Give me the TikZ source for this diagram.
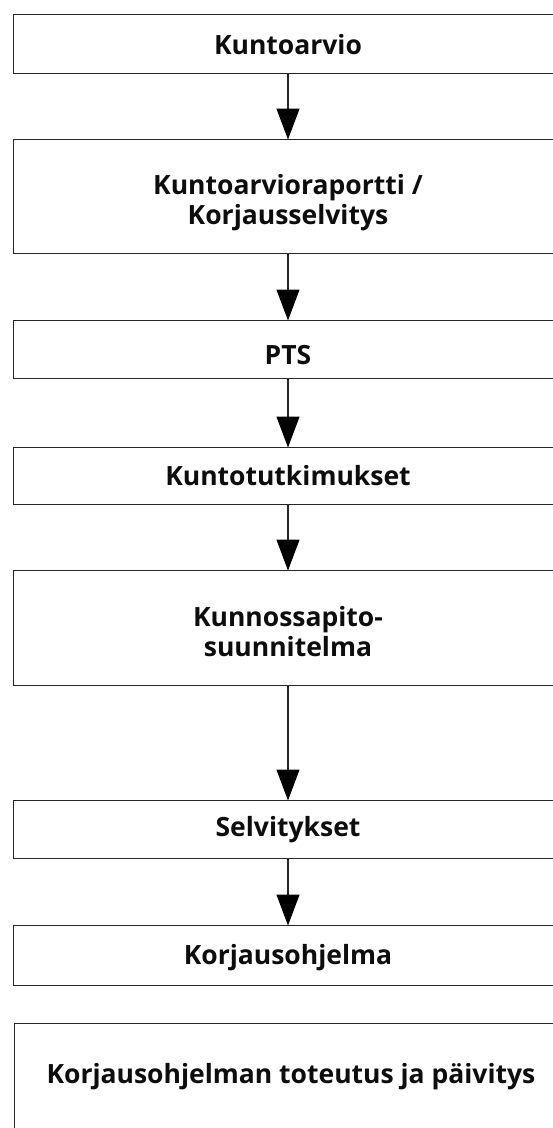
\documentclass[tikz,border=0pt]{standalone}
\usepackage{fontspec}
\setmainfont{Open Sans}
\usetikzlibrary{arrows.meta}
\tikzset{
  box/.style={draw=black!85, line width=1.3pt, minimum width=560pt, inner sep=0pt, anchor=north west},
  lbl/.style={font=\fontsize{26.5}{30}\selectfont\bfseries, text=black!95, align=center, inner sep=0pt},
  flow/.style={draw=black!85, line width=1.2pt, -{Triangle[width=23pt,length=31pt,color=black,fill=black]}, shorten >=-0.5pt}
}
\begin{document}
\begin{tikzpicture}[x=1pt,y=-1pt]
\useasboundingbox (0,0) rectangle (553,1128);
\clip (0,0) rectangle (553,1128);
\coordinate (ax) at (288,0);
\node[box, minimum height=59pt] (b1) at (13,14) {};
\node[box, minimum height=114pt] (b2) at (13,139) {};
\node[box, minimum height=58pt] (b3) at (13,320) {};
\node[box, minimum height=57pt] (b4) at (13,447) {};
\node[box, minimum height=115pt] (b5) at (13,570) {};
\node[box, minimum height=58pt] (b6) at (13,800) {};
\node[box, minimum height=60pt] (b7) at (13,925) {};
\node[box, minimum height=112pt] (b8) at (14,1023) {};
\node[lbl] (t1) at (288,45) {Kuntoarvio};
\node[lbl] (t2) at (288,203) {Kuntoarvioraportti /\\Korjausselvitys};
\node[lbl] (t3) at (288,355) {PTS};
\node[lbl] (t4) at (288,476) {Kuntotutkimukset};
\node[lbl] (t5) at (288,632) {Kunnossapito-\\suunnitelma};
\node[lbl] (t6) at (288,830) {Selvitykset};
\node[lbl] (t7) at (288,958) {Korjausohjelma};
\node[lbl] (t8) at (291,1077) {Korjausohjelman toteutus ja päivitys};
\draw[flow] (b1.south -| ax) -- (b2.north -| ax);
\draw[flow] (b2.south -| ax) -- (b3.north -| ax);
\draw[flow] (b3.south -| ax) -- (b4.north -| ax);
\draw[flow] (b4.south -| ax) -- (b5.north -| ax);
\draw[flow] (b5.south -| ax) -- (b6.north -| ax);
\draw[flow] (b6.south -| ax) -- (b7.north -| ax);
\end{tikzpicture}
\end{document}
